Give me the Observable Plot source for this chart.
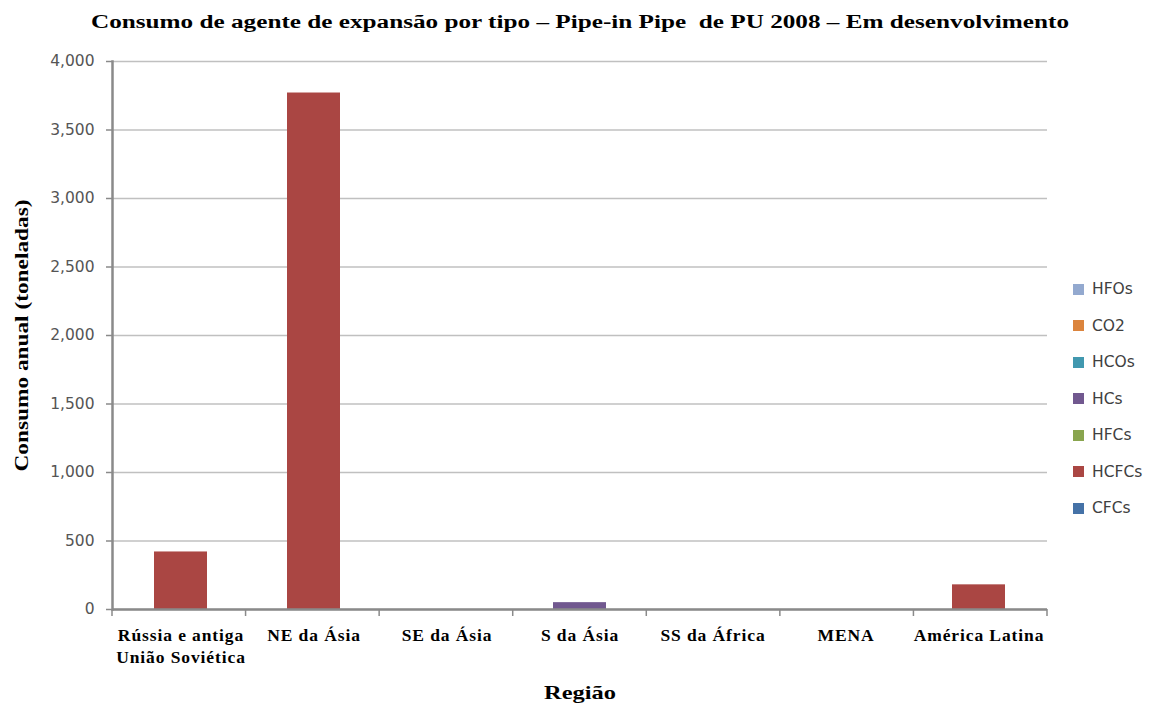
<!DOCTYPE html>
<html>
<head>
<meta charset="utf-8">
<script src="https://cdn.jsdelivr.net/npm/d3@7"></script>
<script src="https://cdn.jsdelivr.net/npm/@observablehq/plot@0.6"></script>
<style>
  body { margin: 0; background: white; }
  #wrap { position: relative; width: 1149px; height: 704px; }
  #legend { position: absolute; left: 1073px; top: 271px; font-family: "DejaVu Sans", sans-serif; font-size: 15.5px; color: #404040; }
  #legend .item { display: flex; align-items: center; height: 36.5px; }
  #legend .sw { width: 11px; height: 11px; margin-right: 8px; }
</style>
</head>
<body>
<div id="wrap"><div id="legend"></div></div>
<script>
const regions = ["Rússia e antiga União Soviética", "NE da Ásia", "SE da Ásia", "S da Ásia", "SS da África", "MENA", "América Latina"];
const regionLabels = ["Rússia e antiga\nUnião Soviética", "NE da Ásia", "SE da Ásia", "S da Ásia", "SS da África", "MENA", "América Latina"];
// stacking order: bottom to top
const types = ["CFCs", "HCFCs", "HFCs", "HCs", "HCOs", "CO2", "HFOs"];
const colors = ["#4572A7", "#AA4643", "#89A54E", "#71588F", "#4198AF", "#DB843D", "#93A9CF"];
const CFCs  = [0, 0, 0, 0, 0, 0, 0];
const HCFCs = [420, 3770, 0, 0, 0, 0, 180];
const HFCs  = [0, 0, 0, 0, 0, 0, 0];
const HCs   = [0, 0, 0, 50, 0, 0, 0];
const HCOs  = [0, 0, 0, 0, 0, 0, 0];
const CO2   = [0, 0, 0, 0, 0, 0, 0];
const HFOs  = [0, 0, 0, 0, 0, 0, 0];
const yTicks = [0, 500, 1000, 1500, 2000, 2500, 3000, 3500, 4000];
const title = "Consumo de agente de expansão por tipo – Pipe-in Pipe  de PU 2008 – Em desenvolvimento";
const yTitle = "Consumo anual (toneladas)";
const xTitle = "Região";

const series = {CFCs, HCFCs, HFCs, HCs, HCOs, CO2, HFOs};
const data = [];
for (const t of types) series[t].forEach((v, i) => data.push({region: regions[i], type: t, value: v}));

const serif = "'Liberation Serif', 'Times New Roman', serif";
const plot = Plot.plot({
  width: 1149, height: 704,
  marginLeft: 112, marginRight: 102, marginTop: 61, marginBottom: 95,
  style: {fontFamily: "'DejaVu Sans', sans-serif", fontSize: "14px", background: "white", overflow: "visible"},
  x: {domain: regions, paddingInner: 0.6, paddingOuter: 0.3, label: null},
  y: {domain: [0, 4000], label: null},
  color: {domain: types, range: colors},
  marks: [
    Plot.gridY(yTicks, {stroke: "#c0c0c0", strokeOpacity: 1, strokeWidth: 1.5}),
    Plot.barY(data, {x: "region", y: "value", fill: "type"}),
    Plot.ruleY([0], {stroke: "#8a8a8a", strokeWidth: 2.5}),
    Plot.frame({anchor: "left", stroke: "#8a8a8a", strokeWidth: 2.5}),
    Plot.axisY({ticks: yTicks, tickFormat: d3.format(","), tickSize: 6, tickPadding: 12, stroke: "#8a8a8a", strokeWidth: 1.5, fill: "#555", fontSize: 15.5, label: null}),
    Plot.axisX({tickSize: 0, tickPadding: 16, tickFormat: d => regionLabels[regions.indexOf(d)], fontFamily: serif, fontWeight: "bold", fontSize: 17.5, fill: "#000", lineHeight: 1.25, label: null}),
    Plot.text([title], {frameAnchor: "top", dy: -39, lineAnchor: "middle", textAnchor: "middle", fontFamily: serif, fontWeight: "bold", fontSize: 18, fill: "#000"}),
    Plot.text([yTitle], {frameAnchor: "left", rotate: -90, dx: -91, textAnchor: "middle", lineAnchor: "middle", fontFamily: serif, fontWeight: "bold", fontSize: 19, fill: "#000"}),
    Plot.text([xTitle], {frameAnchor: "bottom", dy: 83, textAnchor: "middle", lineAnchor: "middle", fontFamily: serif, fontWeight: "bold", fontSize: 19, fill: "#000"})
  ]
});

const svg = d3.select(plot);
svg.selectAll("text").each(function() {
  const t = d3.select(this);
  const txt = t.text();
  if (txt === title) t.attr("textLength", 978).attr("lengthAdjust", "spacingAndGlyphs");
  if (txt === yTitle) t.attr("textLength", 272).attr("lengthAdjust", "spacingAndGlyphs");
  if (txt === xTitle) t.attr("textLength", 72).attr("lengthAdjust", "spacingAndGlyphs");
});
// x tick labels slightly wider, like the reference
svg.selectAll("[aria-label='x-axis tick label'] text").style("letter-spacing", "0.9px");

// category boundary ticks below the x axis, from the plot's scales
const xs = plot.scale("x"), ys = plot.scale("y");
const [r0, r1] = xs.range;
const y0 = ys.apply(0);
const g = svg.append("g").attr("stroke", "#8a8a8a").attr("stroke-width", 1.5);
for (let i = 0; i <= regions.length; i++) {
  const x = r0 + i * (r1 - r0) / regions.length;
  g.append("line").attr("x1", x).attr("x2", x).attr("y1", y0).attr("y2", y0 + 7);
}

document.getElementById("wrap").prepend(plot);

// legend (top to bottom: reverse of stacking order)
const legend = d3.select("#legend");
for (const t of types.slice().reverse()) {
  const it = legend.append("div").attr("class", "item");
  it.append("div").attr("class", "sw").style("background", colors[types.indexOf(t)]);
  it.append("span").text(t);
}
</script>
</body>
</html>
